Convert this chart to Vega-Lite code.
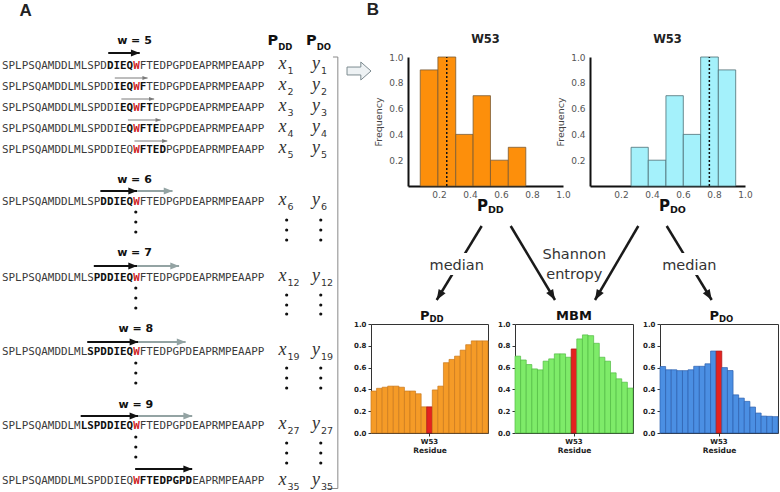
{
  "$schema": "https://vega.github.io/schema/vega-lite/v6.json",
  "padding": 0,
  "background": "white",
  "config": {"view": {"stroke": null}, "font": "DejaVu Sans", "axis": {"grid": false, "labelOverlap": false, "labelFlush": false}},
  "datasets": {
    "seqA": [
      {"y": 6.6, "x": 0, "text": "SPLPSQAMDDLMLSPD", "kind": "ctx"},
      {"y": 6.6, "x": 16, "text": "DIEQ", "kind": "win"},
      {"y": 6.6, "x": 20, "text": "W", "kind": "tgt"},
      {"y": 6.6, "x": 21, "text": "FTEDPGPDEAPRMPEAAPP", "kind": "ctx"},
      {"y": 8.7, "x": 0, "text": "SPLPSQAMDDLMLSPDD", "kind": "ctx"},
      {"y": 8.7, "x": 17, "text": "IEQ", "kind": "win"},
      {"y": 8.7, "x": 20, "text": "W", "kind": "tgt"},
      {"y": 8.7, "x": 21, "text": "F", "kind": "win"},
      {"y": 8.7, "x": 22, "text": "TEDPGPDEAPRMPEAAPP", "kind": "ctx"},
      {"y": 10.8, "x": 0, "text": "SPLPSQAMDDLMLSPDDI", "kind": "ctx"},
      {"y": 10.8, "x": 18, "text": "EQ", "kind": "win"},
      {"y": 10.8, "x": 20, "text": "W", "kind": "tgt"},
      {"y": 10.8, "x": 21, "text": "FT", "kind": "win"},
      {"y": 10.8, "x": 23, "text": "EDPGPDEAPRMPEAAPP", "kind": "ctx"},
      {"y": 12.9, "x": 0, "text": "SPLPSQAMDDLMLSPDDIE", "kind": "ctx"},
      {"y": 12.9, "x": 19, "text": "Q", "kind": "win"},
      {"y": 12.9, "x": 20, "text": "W", "kind": "tgt"},
      {"y": 12.9, "x": 21, "text": "FTE", "kind": "win"},
      {"y": 12.9, "x": 24, "text": "DPGPDEAPRMPEAAPP", "kind": "ctx"},
      {"y": 15.0, "x": 0, "text": "SPLPSQAMDDLMLSPDDIEQ", "kind": "ctx"},
      {"y": 15.0, "x": 20, "text": "W", "kind": "tgt"},
      {"y": 15.0, "x": 21, "text": "FTED", "kind": "win"},
      {"y": 15.0, "x": 25, "text": "PGPDEAPRMPEAAPP", "kind": "ctx"},
      {"y": 20.2, "x": 0, "text": "SPLPSQAMDDLMLSP", "kind": "ctx"},
      {"y": 20.2, "x": 15, "text": "DDIEQ", "kind": "win"},
      {"y": 20.2, "x": 20, "text": "W", "kind": "tgt"},
      {"y": 20.2, "x": 21, "text": "FTEDPGPDEAPRMPEAAPP", "kind": "ctx"},
      {"y": 27.8, "x": 0, "text": "SPLPSQAMDDLMLS", "kind": "ctx"},
      {"y": 27.8, "x": 14, "text": "PDDIEQ", "kind": "win"},
      {"y": 27.8, "x": 20, "text": "W", "kind": "tgt"},
      {"y": 27.8, "x": 21, "text": "FTEDPGPDEAPRMPEAAPP", "kind": "ctx"},
      {"y": 35.2, "x": 0, "text": "SPLPSQAMDDLML", "kind": "ctx"},
      {"y": 35.2, "x": 13, "text": "SPDDIEQ", "kind": "win"},
      {"y": 35.2, "x": 20, "text": "W", "kind": "tgt"},
      {"y": 35.2, "x": 21, "text": "FTEDPGPDEAPRMPEAAPP", "kind": "ctx"},
      {"y": 42.6, "x": 0, "text": "SPLPSQAMDDLM", "kind": "ctx"},
      {"y": 42.6, "x": 12, "text": "LSPDDIEQ", "kind": "win"},
      {"y": 42.6, "x": 20, "text": "W", "kind": "tgt"},
      {"y": 42.6, "x": 21, "text": "FTEDPGPDEAPRMPEAAPP", "kind": "ctx"},
      {"y": 48.1, "x": 0, "text": "SPLPSQAMDDLMLSPDDIEQ", "kind": "ctx"},
      {"y": 48.1, "x": 20, "text": "W", "kind": "tgt"},
      {"y": 48.1, "x": 21, "text": "FTEDPGPD", "kind": "win"},
      {"y": 48.1, "x": 29, "text": "EAPRMPEAAPP", "kind": "ctx"}
    ],
    "wlab": [
      {"x": 20.2, "y": 4.1, "label": "w = 5"},
      {"x": 20.2, "y": 18.0, "label": "w = 6"},
      {"x": 20.2, "y": 25.3, "label": "w = 7"},
      {"x": 20.4, "y": 32.9, "label": "w = 8"},
      {"x": 20.4, "y": 40.5, "label": "w = 9"}
    ],
    "arrowsA": [
      {"x": 16.2, "x2": 21, "y": 5.3, "kind": "win"},
      {"x": 15, "x2": 20.6, "y": 19.1, "kind": "win"},
      {"x": 14, "x2": 20.6, "y": 26.6, "kind": "win"},
      {"x": 13, "x2": 20.8, "y": 34.2, "kind": "win"},
      {"x": 12, "x2": 20.8, "y": 41.6, "kind": "win"},
      {"x": 20.3, "x2": 29, "y": 46.9, "kind": "win"},
      {"x": 20.6, "x2": 26, "y": 19.1, "kind": "slide"},
      {"x": 20.6, "x2": 27, "y": 26.6, "kind": "slide"},
      {"x": 20.8, "x2": 28, "y": 34.2, "kind": "slide"},
      {"x": 20.8, "x2": 29, "y": 41.6, "kind": "slide"},
      {"x": 17.2, "x2": 22.2, "y": 7.8, "kind": "step"},
      {"x": 18.2, "x2": 23.2, "y": 9.9, "kind": "step"},
      {"x": 19.2, "x2": 24.2, "y": 12.0, "kind": "step"},
      {"x": 20.2, "x2": 25.2, "y": 14.1, "kind": "step"}
    ],
    "dotsA": [
      {"x": 20.4, "y": 21.2}, {"x": 20.4, "y": 22.2}, {"x": 20.4, "y": 23.2},
      {"x": 20.4, "y": 28.8}, {"x": 20.4, "y": 29.8}, {"x": 20.4, "y": 30.8},
      {"x": 20.4, "y": 36.3}, {"x": 20.4, "y": 37.3}, {"x": 20.4, "y": 38.3},
      {"x": 20.4, "y": 43.7}, {"x": 20.4, "y": 44.7}, {"x": 20.4, "y": 45.7},
      {"x": 43.4, "y": 22.0}, {"x": 43.4, "y": 23.0}, {"x": 43.4, "y": 24.0},
      {"x": 43.4, "y": 29.5}, {"x": 43.4, "y": 30.5}, {"x": 43.4, "y": 31.4},
      {"x": 43.4, "y": 36.8}, {"x": 43.4, "y": 37.8}, {"x": 43.4, "y": 38.8},
      {"x": 43.4, "y": 44.3}, {"x": 43.4, "y": 45.3}, {"x": 43.4, "y": 46.3},
      {"x": 48.6, "y": 22.0}, {"x": 48.6, "y": 23.0}, {"x": 48.6, "y": 24.0},
      {"x": 48.6, "y": 29.5}, {"x": 48.6, "y": 30.5}, {"x": 48.6, "y": 31.4},
      {"x": 48.6, "y": 36.8}, {"x": 48.6, "y": 37.8}, {"x": 48.6, "y": 38.8},
      {"x": 48.6, "y": 44.3}, {"x": 48.6, "y": 45.3}, {"x": 48.6, "y": 46.3}
    ],
    "varsA": [
      {"x": 42.15, "y": 6.85, "v": "x", "sub": "1"}, {"x": 47.26, "y": 6.85, "v": "y", "sub": "1"},
      {"x": 42.15, "y": 8.95, "v": "x", "sub": "2"}, {"x": 47.26, "y": 8.95, "v": "y", "sub": "2"},
      {"x": 42.15, "y": 11.05, "v": "x", "sub": "3"}, {"x": 47.26, "y": 11.05, "v": "y", "sub": "3"},
      {"x": 42.15, "y": 13.15, "v": "x", "sub": "4"}, {"x": 47.26, "y": 13.15, "v": "y", "sub": "4"},
      {"x": 42.15, "y": 15.25, "v": "x", "sub": "5"}, {"x": 47.26, "y": 15.25, "v": "y", "sub": "5"},
      {"x": 42.15, "y": 20.45, "v": "x", "sub": "6"}, {"x": 47.26, "y": 20.45, "v": "y", "sub": "6"},
      {"x": 42.15, "y": 28.05, "v": "x", "sub": "12"}, {"x": 47.26, "y": 28.05, "v": "y", "sub": "12"},
      {"x": 42.15, "y": 35.45, "v": "x", "sub": "19"}, {"x": 47.26, "y": 35.45, "v": "y", "sub": "19"},
      {"x": 42.15, "y": 42.85, "v": "x", "sub": "27"}, {"x": 47.26, "y": 42.85, "v": "y", "sub": "27"},
      {"x": 42.15, "y": 48.45, "v": "x", "sub": "35"}, {"x": 47.26, "y": 48.45, "v": "y", "sub": "35"}
    ],
    "headA": [
      {"x": 42.1, "y": 4.5, "main": "P", "sub": "DD"},
      {"x": 47.98, "y": 4.5, "main": "P", "sub": "DO"}
    ],
    "bracketA": [
      {"x": 51.2, "y": 5.7, "x2": 51.2, "y2": 48.85},
      {"x": 50.46, "y": 5.7, "x2": 51.2, "y2": 5.7},
      {"x": 49.55, "y": 48.85, "x2": 51.2, "y2": 48.85}
    ],
    "hist1": [
      {"lo": 0.079, "hi": 0.193, "freq": 0.9},
      {"lo": 0.193, "hi": 0.308, "freq": 1.0},
      {"lo": 0.308, "hi": 0.42, "freq": 0.4},
      {"lo": 0.42, "hi": 0.532, "freq": 0.7},
      {"lo": 0.532, "hi": 0.647, "freq": 0.2},
      {"lo": 0.647, "hi": 0.76, "freq": 0.3}
    ],
    "hist2": [
      {"lo": 0.265, "hi": 0.376, "freq": 0.3},
      {"lo": 0.376, "hi": 0.49, "freq": 0.2},
      {"lo": 0.49, "hi": 0.602, "freq": 0.7},
      {"lo": 0.602, "hi": 0.714, "freq": 0.4},
      {"lo": 0.714, "hi": 0.828, "freq": 1.0},
      {"lo": 0.828, "hi": 0.94, "freq": 0.9}
    ],
    "flow": [
      {"x": 11.07, "y": 4.0, "x2": 6.57, "y2": 11.4, "ang": 121.3},
      {"x": 13.97, "y": 4.0, "x2": 18.4, "y2": 11.4, "ang": 59.1},
      {"x": 26.73, "y": 4.0, "x2": 22.4, "y2": 11.4, "ang": 120.3},
      {"x": 29.57, "y": 4.0, "x2": 34.07, "y2": 11.4, "ang": 58.7}
    ],
    "gaps": [
      {"x": 5.6, "y": 6.7, "x2": 11.6, "y2": 8.9},
      {"x": 28.9, "y": 6.7, "x2": 34.9, "y2": 8.9}
    ],
    "flowText": [
      {"x": 8.57, "y": 8.0, "t": "median"},
      {"x": 20.33, "y": 6.9, "t": "Shannon"},
      {"x": 20.33, "y": 8.85, "t": "entropy"},
      {"x": 31.83, "y": 8.0, "t": "median"}
    ],
    "pdd": [
      {"residue": "L43", "value": 0.385}, {"residue": "M44", "value": 0.41}, {"residue": "L45", "value": 0.42},
      {"residue": "S46", "value": 0.43}, {"residue": "P47", "value": 0.43}, {"residue": "D48", "value": 0.42},
      {"residue": "D49", "value": 0.385}, {"residue": "I50", "value": 0.385}, {"residue": "E51", "value": 0.36},
      {"residue": "Q52", "value": 0.24}, {"residue": "W53", "value": 0.24}, {"residue": "F54", "value": 0.395},
      {"residue": "T55", "value": 0.43}, {"residue": "E56", "value": 0.645}, {"residue": "D57", "value": 0.675},
      {"residue": "P58", "value": 0.705}, {"residue": "G59", "value": 0.76}, {"residue": "P60", "value": 0.81},
      {"residue": "D61", "value": 0.845}, {"residue": "E62", "value": 0.845}, {"residue": "A63", "value": 0.845}
    ],
    "mbm": [
      {"residue": "L43", "value": 0.705}, {"residue": "M44", "value": 0.67}, {"residue": "L45", "value": 0.628},
      {"residue": "S46", "value": 0.588}, {"residue": "P47", "value": 0.579}, {"residue": "D48", "value": 0.659},
      {"residue": "D49", "value": 0.68}, {"residue": "I50", "value": 0.726}, {"residue": "E51", "value": 0.726},
      {"residue": "Q52", "value": 0.695}, {"residue": "W53", "value": 0.771}, {"residue": "F54", "value": 0.863},
      {"residue": "T55", "value": 0.9}, {"residue": "E56", "value": 0.893}, {"residue": "D57", "value": 0.823},
      {"residue": "P58", "value": 0.695}, {"residue": "G59", "value": 0.659}, {"residue": "P60", "value": 0.552},
      {"residue": "D61", "value": 0.497}, {"residue": "E62", "value": 0.466}, {"residue": "A63", "value": 0.412}
    ],
    "pdo": [
      {"residue": "L43", "value": 0.61}, {"residue": "M44", "value": 0.58}, {"residue": "L45", "value": 0.58},
      {"residue": "S46", "value": 0.572}, {"residue": "P47", "value": 0.572}, {"residue": "D48", "value": 0.58},
      {"residue": "D49", "value": 0.612}, {"residue": "I50", "value": 0.612}, {"residue": "E51", "value": 0.635},
      {"residue": "Q52", "value": 0.752}, {"residue": "W53", "value": 0.752}, {"residue": "F54", "value": 0.6},
      {"residue": "T55", "value": 0.573}, {"residue": "E56", "value": 0.35}, {"residue": "D57", "value": 0.32},
      {"residue": "P58", "value": 0.29}, {"residue": "G59", "value": 0.238}, {"residue": "P60", "value": 0.183},
      {"residue": "D61", "value": 0.155}, {"residue": "E62", "value": 0.153}, {"residue": "A63", "value": 0.15}
    ]
  },
  "hconcat": [
    {
      "width": 348,
      "height": 492,
      "encoding": {
        "x": {"field": "x", "type": "quantitative", "scale": {"domain": [-0.3, 52.75], "nice": false, "zero": false}, "axis": null},
        "y": {"field": "y", "type": "quantitative", "scale": {"domain": [0, 49.2], "reverse": true, "nice": false, "zero": false}, "axis": null}
      },
      "layer": [
        {
          "data": {"name": "bracketA"},
          "mark": {"type": "rule", "color": "#8a8a8a", "strokeWidth": 1},
          "encoding": {"x2": {"field": "x2"}, "y2": {"field": "y2"}}
        },
        {
          "data": {"name": "arrowsA"},
          "transform": [{"filter": "datum.kind === 'win'"}],
          "mark": {"type": "rule", "color": "#111111", "strokeWidth": 2},
          "encoding": {"x2": {"field": "x2"}}
        },
        {
          "data": {"name": "arrowsA"},
          "transform": [{"filter": "datum.kind === 'slide'"}],
          "mark": {"type": "rule", "color": "#93a3a3", "strokeWidth": 2},
          "encoding": {"x2": {"field": "x2"}}
        },
        {
          "data": {"name": "arrowsA"},
          "transform": [{"filter": "datum.kind === 'step'"}],
          "mark": {"type": "rule", "color": "#7a7a7a", "strokeWidth": 1},
          "encoding": {"x2": {"field": "x2"}}
        },
        {
          "data": {"name": "arrowsA"},
          "transform": [{"filter": "datum.kind === 'win'"}],
          "mark": {"type": "point", "shape": "M0,0L-2.2,-0.85L-2.2,0.85Z", "filled": true, "color": "#111111", "size": 64, "opacity": 1, "strokeWidth": 0},
          "encoding": {"x": {"field": "x2", "type": "quantitative", "scale": {"domain": [-0.3, 52.75], "nice": false, "zero": false}, "axis": null}}
        },
        {
          "data": {"name": "arrowsA"},
          "transform": [{"filter": "datum.kind === 'slide'"}],
          "mark": {"type": "point", "shape": "M0,0L-2.2,-0.85L-2.2,0.85Z", "filled": true, "color": "#93a3a3", "size": 64, "opacity": 1, "strokeWidth": 0},
          "encoding": {"x": {"field": "x2", "type": "quantitative", "scale": {"domain": [-0.3, 52.75], "nice": false, "zero": false}, "axis": null}}
        },
        {
          "data": {"name": "arrowsA"},
          "transform": [{"filter": "datum.kind === 'step'"}],
          "mark": {"type": "point", "shape": "M0,0L-2.2,-0.85L-2.2,0.85Z", "filled": true, "color": "#7a7a7a", "size": 22, "opacity": 1, "strokeWidth": 0},
          "encoding": {"x": {"field": "x2", "type": "quantitative", "scale": {"domain": [-0.3, 52.75], "nice": false, "zero": false}, "axis": null}}
        },
        {
          "data": {"name": "dotsA"},
          "mark": {"type": "circle", "color": "#111111", "size": 10, "opacity": 1}
        },
        {
          "data": {"name": "seqA"},
          "transform": [{"filter": "datum.kind === 'ctx'"}],
          "mark": {"type": "text", "font": "DejaVu Sans Mono", "fontSize": 10.9, "align": "left", "baseline": "middle", "color": "#3a3a3a"},
          "encoding": {"text": {"field": "text"}}
        },
        {
          "data": {"name": "seqA"},
          "transform": [{"filter": "datum.kind === 'win'"}],
          "mark": {"type": "text", "font": "DejaVu Sans Mono", "fontSize": 10.9, "fontWeight": "bold", "align": "left", "baseline": "middle", "color": "#111111"},
          "encoding": {"text": {"field": "text"}}
        },
        {
          "data": {"name": "seqA"},
          "transform": [{"filter": "datum.kind === 'tgt'"}],
          "mark": {"type": "text", "font": "DejaVu Sans Mono", "fontSize": 10.9, "fontWeight": "bold", "align": "left", "baseline": "middle", "color": "#d02525"},
          "encoding": {"text": {"field": "text"}}
        },
        {
          "data": {"name": "wlab"},
          "mark": {"type": "text", "font": "DejaVu Sans", "fontSize": 11, "fontWeight": "bold", "align": "center", "baseline": "middle", "color": "#111111"},
          "encoding": {"text": {"field": "label"}}
        },
        {
          "data": {"name": "headA"},
          "mark": {"type": "text", "font": "DejaVu Sans", "fontSize": 14.5, "fontWeight": "bold", "align": "right", "baseline": "alphabetic", "color": "#111111"},
          "encoding": {"text": {"field": "main"}}
        },
        {
          "data": {"name": "headA"},
          "mark": {"type": "text", "font": "DejaVu Sans", "fontSize": 8.5, "fontWeight": "bold", "align": "left", "baseline": "alphabetic", "dy": 5, "color": "#111111"},
          "encoding": {"text": {"field": "sub"}}
        },
        {
          "data": {"name": "varsA"},
          "mark": {"type": "text", "font": "Liberation Serif", "fontSize": 18, "fontStyle": "italic", "align": "left", "baseline": "alphabetic", "color": "#333333"},
          "encoding": {"text": {"field": "v"}}
        },
        {
          "data": {"name": "varsA"},
          "mark": {"type": "text", "font": "DejaVu Sans", "fontSize": 9.5, "align": "left", "baseline": "alphabetic", "dx": 9, "dy": 5.5, "color": "#333333"},
          "encoding": {"text": {"field": "sub"}}
        },
        {
          "data": {"values": [{"x": 3.59, "y": 1.1, "t": "A"}]},
          "mark": {"type": "text", "font": "Liberation Sans", "fontSize": 17, "fontWeight": "bold", "align": "center", "baseline": "middle", "color": "#222222"},
          "encoding": {"text": {"field": "t"}}
        },
        {
          "data": {"values": [{"x": 54.43, "y": 7.1}]},
          "mark": {"type": "point", "shape": "M-1,-0.33L0.15,-0.33L0.15,-0.75L1,0L0.15,0.75L0.15,0.33L-1,0.33Z", "filled": false, "fill": "#eef2f4", "stroke": "#7d8b90", "strokeWidth": 1, "size": 576, "opacity": 1, "fillOpacity": 1}
        }
      ]
    },
    {
      "vconcat": [
        {
          "width": 407,
          "height": 33,
          "data": {"values": [{"x": 0.2, "y": 0.95, "t": "B"}]},
          "mark": {"type": "text", "font": "Liberation Sans", "fontSize": 17, "fontWeight": "bold", "align": "center", "baseline": "middle", "color": "#222222"},
          "encoding": {
            "x": {"field": "x", "type": "quantitative", "scale": {"domain": [0, 40.7], "nice": false, "zero": false}, "axis": null},
            "y": {"field": "y", "type": "quantitative", "scale": {"domain": [0, 3.3], "reverse": true, "nice": false, "zero": false}, "axis": null},
            "text": {"field": "t"}
          }
        },
        {
          "hconcat": [
            {
              "width": 10,
              "height": 129,
              "data": {"values": [{"t": ""}]},
              "mark": {"type": "text"},
              "encoding": {"text": {"field": "t"}}
            },
            {
              "width": 155,
              "height": 129,
              "title": {"text": "W53", "font": "DejaVu Sans", "fontSize": 11.5, "fontWeight": "bold", "color": "#222222", "offset": 8, "anchor": "middle"},
              "layer": [
                {
                  "data": {"name": "hist1"},
                  "mark": {"type": "rect", "fill": "#fd8f0b", "stroke": "#7a5a33", "strokeWidth": 0.8},
                  "encoding": {
                    "x": {"field": "lo", "type": "quantitative", "scale": {"domain": [0, 1], "nice": false, "zero": false},
                      "axis": {"values": [0.2, 0.4, 0.6, 0.8, 1.0], "tickCount": 20, "format": ".1f", "ticks": false, "labelOverlap": false, "labelFlush": false, "labelPadding": 4, "labelFont": "DejaVu Sans", "labelFontSize": 9, "labelColor": "#555555", "domainColor": "#111111", "domainWidth": 2, "title": null}},
                    "x2": {"field": "hi"},
                    "y": {"field": "freq", "type": "quantitative", "scale": {"domain": [0, 1], "nice": false},
                      "axis": {"values": [0.2, 0.4, 0.6, 0.8, 1.0], "tickCount": 20, "format": ".1f", "ticks": false, "labelOverlap": false, "labelFlush": false, "labelPadding": 5, "labelFont": "DejaVu Sans", "labelFontSize": 9, "labelColor": "#555555", "domainColor": "#111111", "domainWidth": 2, "title": "Frequency", "titleFont": "DejaVu Sans", "titleFontSize": 9.5, "titleFontWeight": "normal", "titleColor": "#444444", "titlePadding": 5}},
                    "y2": {"datum": 0}
                  }
                },
                {
                  "data": {"values": [{"median": 0.25}]},
                  "mark": {"type": "rule", "color": "#111111", "strokeWidth": 1.5, "strokeDash": [2, 2]},
                  "encoding": {
                    "x": {"field": "median", "type": "quantitative", "scale": {"domain": [0, 1], "nice": false, "zero": false}},
                    "y": {"datum": 0, "type": "quantitative", "scale": {"domain": [0, 1], "nice": false}},
                    "y2": {"datum": 1}
                  }
                },
                {
                  "data": {"values": [{"main": "P", "sub": "DD"}]},
                  "mark": {"type": "text", "font": "DejaVu Sans", "fontSize": 15, "fontWeight": "bold", "align": "right", "baseline": "alphabetic", "color": "#111111"},
                  "encoding": {
                    "x": {"datum": 0.516, "type": "quantitative", "scale": {"domain": [0, 1], "nice": false, "zero": false}},
                    "y": {"datum": -0.19, "type": "quantitative", "scale": {"domain": [0, 1], "nice": false}},
                    "text": {"field": "main"}
                  }
                },
                {
                  "data": {"values": [{"main": "P", "sub": "DD"}]},
                  "mark": {"type": "text", "font": "DejaVu Sans", "fontSize": 9.5, "fontWeight": "bold", "align": "left", "baseline": "alphabetic", "dy": 2, "color": "#111111"},
                  "encoding": {
                    "x": {"datum": 0.516, "type": "quantitative", "scale": {"domain": [0, 1], "nice": false, "zero": false}},
                    "y": {"datum": -0.19, "type": "quantitative", "scale": {"domain": [0, 1], "nice": false}},
                    "text": {"field": "sub"}
                  }
                }
              ]
            },
            {
              "width": 155,
              "height": 129,
              "title": {"text": "W53", "font": "DejaVu Sans", "fontSize": 11.5, "fontWeight": "bold", "color": "#222222", "offset": 8, "anchor": "middle"},
              "layer": [
                {
                  "data": {"name": "hist2"},
                  "mark": {"type": "rect", "fill": "#a4f1fb", "stroke": "#4d6f75", "strokeWidth": 0.8},
                  "encoding": {
                    "x": {"field": "lo", "type": "quantitative", "scale": {"domain": [0, 1], "nice": false, "zero": false},
                      "axis": {"values": [0.2, 0.4, 0.6, 0.8, 1.0], "tickCount": 20, "format": ".1f", "ticks": false, "labelOverlap": false, "labelFlush": false, "labelPadding": 4, "labelFont": "DejaVu Sans", "labelFontSize": 9, "labelColor": "#555555", "domainColor": "#111111", "domainWidth": 2, "title": null}},
                    "x2": {"field": "hi"},
                    "y": {"field": "freq", "type": "quantitative", "scale": {"domain": [0, 1], "nice": false},
                      "axis": {"values": [0.2, 0.4, 0.6, 0.8, 1.0], "tickCount": 20, "format": ".1f", "ticks": false, "labelOverlap": false, "labelFlush": false, "labelPadding": 5, "labelFont": "DejaVu Sans", "labelFontSize": 9, "labelColor": "#555555", "domainColor": "#111111", "domainWidth": 2, "title": "Frequency", "titleFont": "DejaVu Sans", "titleFontSize": 9.5, "titleFontWeight": "normal", "titleColor": "#444444", "titlePadding": 5}},
                    "y2": {"datum": 0}
                  }
                },
                {
                  "data": {"values": [{"median": 0.77}]},
                  "mark": {"type": "rule", "color": "#111111", "strokeWidth": 1.5, "strokeDash": [2, 2]},
                  "encoding": {
                    "x": {"field": "median", "type": "quantitative", "scale": {"domain": [0, 1], "nice": false, "zero": false}},
                    "y": {"datum": 0, "type": "quantitative", "scale": {"domain": [0, 1], "nice": false}},
                    "y2": {"datum": 1}
                  }
                },
                {
                  "data": {"values": [{"main": "P", "sub": "DO"}]},
                  "mark": {"type": "text", "font": "DejaVu Sans", "fontSize": 15, "fontWeight": "bold", "align": "right", "baseline": "alphabetic", "color": "#111111"},
                  "encoding": {
                    "x": {"datum": 0.516, "type": "quantitative", "scale": {"domain": [0, 1], "nice": false, "zero": false}},
                    "y": {"datum": -0.19, "type": "quantitative", "scale": {"domain": [0, 1], "nice": false}},
                    "text": {"field": "main"}
                  }
                },
                {
                  "data": {"values": [{"main": "P", "sub": "DO"}]},
                  "mark": {"type": "text", "font": "DejaVu Sans", "fontSize": 9.5, "fontWeight": "bold", "align": "left", "baseline": "alphabetic", "dy": 2, "color": "#111111"},
                  "encoding": {
                    "x": {"datum": 0.516, "type": "quantitative", "scale": {"domain": [0, 1], "nice": false, "zero": false}},
                    "y": {"datum": -0.19, "type": "quantitative", "scale": {"domain": [0, 1], "nice": false}},
                    "text": {"field": "sub"}
                  }
                }
              ]
            }
          ],
          "spacing": 27,
          "bounds": "flush"
        },
        {
          "width": 407,
          "height": 94,
          "encoding": {
            "x": {"field": "x", "type": "quantitative", "scale": {"domain": [0, 40.7], "nice": false, "zero": false}, "axis": null},
            "y": {"field": "y", "type": "quantitative", "scale": {"domain": [2.9, 12.3], "reverse": true, "nice": false, "zero": false}, "axis": null}
          },
          "layer": [
            {
              "data": {"name": "flow"},
              "mark": {"type": "rule", "color": "#1a1a1a", "strokeWidth": 2.5},
              "encoding": {"x2": {"field": "x2"}, "y2": {"field": "y2"}}
            },
            {
              "data": {"name": "gaps"},
              "mark": {"type": "rect", "fill": "white", "stroke": null},
              "encoding": {"x2": {"field": "x2"}, "y2": {"field": "y2"}}
            },
            {
              "data": {"name": "flowText"},
              "mark": {"type": "text", "font": "DejaVu Sans", "fontSize": 14.5, "align": "center", "baseline": "middle", "color": "#333333"},
              "encoding": {"text": {"field": "t"}}
            },
            {
              "data": {"name": "flow"},
              "mark": {"type": "point", "shape": "M0,0L-2.2,-0.85L-2.2,0.85Z", "filled": true, "color": "#1a1a1a", "size": 90, "opacity": 1, "strokeWidth": 0},
              "encoding": {
                "x": {"field": "x2", "type": "quantitative", "scale": {"domain": [0, 40.7], "nice": false, "zero": false}, "axis": null},
                "y": {"field": "y2", "type": "quantitative", "scale": {"domain": [2.9, 12.3], "reverse": true, "nice": false, "zero": false}, "axis": null},
                "angle": {"field": "ang", "type": "quantitative", "scale": null}
              }
            }
          ]
        },
        {
          "hconcat": [
            {
              "width": 117,
              "height": 109,
              "view": {"stroke": "#333333", "strokeWidth": 1},
              "layer": [
                {
                  "data": {"name": "pdd"},
                  "mark": {"type": "bar", "strokeWidth": 0.7},
                  "encoding": {
                    "x": {"field": "residue", "type": "nominal", "sort": null, "scale": {"paddingInner": 0, "paddingOuter": 0},
                      "axis": {"values": ["W53"], "title": "Residue", "labelAngle": 0, "labelFont": "DejaVu Sans", "labelFontWeight": "bold", "labelFontSize": 7, "labelColor": "#222222", "tickSize": 3, "tickColor": "#333333", "labelPadding": 1, "domain": false, "titleFont": "DejaVu Sans", "titleFontWeight": "bold", "titleFontSize": 7.5, "titleColor": "#222222", "titlePadding": 2}},
                    "y": {"field": "value", "type": "quantitative", "scale": {"domain": [0, 1], "nice": false},
                      "axis": {"values": [0, 0.2, 0.4, 0.6, 0.8, 1.0], "tickCount": 20, "format": ".1f", "title": null, "labelOverlap": false, "labelFlush": false, "labelFont": "DejaVu Sans", "labelFontWeight": "bold", "labelFontSize": 7, "labelColor": "#222222", "tickSize": 3, "tickColor": "#333333", "labelPadding": 2, "domain": false}},
                    "fill": {"condition": {"test": "datum.residue === 'W53'", "value": "#e4221f"}, "value": "#f59b27"},
                    "stroke": {"condition": {"test": "datum.residue === 'W53'", "value": "#a81616"}, "value": "#c9791c"}
                  }
                },
                {
                  "data": {"values": [{"main": "P", "sub": "DD"}]},
                  "mark": {"type": "text", "font": "DejaVu Sans", "fontSize": 13, "fontWeight": "bold", "align": "right", "baseline": "alphabetic", "color": "#111111"},
                  "encoding": {
                    "x": {"datum": "W53", "type": "nominal", "scale": {"paddingInner": 0, "paddingOuter": 0}},
                    "y": {"datum": 1.035, "type": "quantitative", "scale": {"domain": [0, 1], "nice": false}},
                    "text": {"field": "main"}
                  }
                },
                {
                  "data": {"values": [{"main": "P", "sub": "DD"}]},
                  "mark": {"type": "text", "font": "DejaVu Sans", "fontSize": 8.5, "fontWeight": "bold", "align": "left", "baseline": "alphabetic", "dy": 2, "color": "#111111"},
                  "encoding": {
                    "x": {"datum": "W53", "type": "nominal", "scale": {"paddingInner": 0, "paddingOuter": 0}},
                    "y": {"datum": 1.035, "type": "quantitative", "scale": {"domain": [0, 1], "nice": false}},
                    "text": {"field": "sub"}
                  }
                }
              ]
            },
            {
              "width": 118,
              "height": 109,
              "view": {"stroke": "#333333", "strokeWidth": 1},
              "layer": [
                {
                  "data": {"name": "mbm"},
                  "mark": {"type": "bar", "strokeWidth": 0.7},
                  "encoding": {
                    "x": {"field": "residue", "type": "nominal", "sort": null, "scale": {"paddingInner": 0, "paddingOuter": 0},
                      "axis": {"values": ["W53"], "title": "Residue", "labelAngle": 0, "labelFont": "DejaVu Sans", "labelFontWeight": "bold", "labelFontSize": 7, "labelColor": "#222222", "tickSize": 3, "tickColor": "#333333", "labelPadding": 1, "domain": false, "titleFont": "DejaVu Sans", "titleFontWeight": "bold", "titleFontSize": 7.5, "titleColor": "#222222", "titlePadding": 2}},
                    "y": {"field": "value", "type": "quantitative", "scale": {"domain": [0, 1], "nice": false},
                      "axis": {"values": [0, 0.2, 0.4, 0.6, 0.8, 1.0], "tickCount": 20, "format": ".1f", "title": null, "labelOverlap": false, "labelFlush": false, "labelFont": "DejaVu Sans", "labelFontWeight": "bold", "labelFontSize": 7, "labelColor": "#222222", "tickSize": 3, "tickColor": "#333333", "labelPadding": 2, "domain": false}},
                    "fill": {"condition": {"test": "datum.residue === 'W53'", "value": "#e4221f"}, "value": "#7eeb69"},
                    "stroke": {"condition": {"test": "datum.residue === 'W53'", "value": "#a81616"}, "value": "#52bb44"}
                  }
                },
                {
                  "data": {"values": [{"main": "MBM"}]},
                  "mark": {"type": "text", "font": "DejaVu Sans", "fontSize": 13, "fontWeight": "bold", "align": "center", "baseline": "alphabetic", "color": "#111111"},
                  "encoding": {
                    "x": {"datum": "W53", "type": "nominal", "scale": {"paddingInner": 0, "paddingOuter": 0}},
                    "y": {"datum": 1.035, "type": "quantitative", "scale": {"domain": [0, 1], "nice": false}},
                    "text": {"field": "main"}
                  }
                }
              ]
            },
            {
              "width": 118,
              "height": 109,
              "view": {"stroke": "#333333", "strokeWidth": 1},
              "layer": [
                {
                  "data": {"name": "pdo"},
                  "mark": {"type": "bar", "strokeWidth": 0.7},
                  "encoding": {
                    "x": {"field": "residue", "type": "nominal", "sort": null, "scale": {"paddingInner": 0, "paddingOuter": 0},
                      "axis": {"values": ["W53"], "title": "Residue", "labelAngle": 0, "labelFont": "DejaVu Sans", "labelFontWeight": "bold", "labelFontSize": 7, "labelColor": "#222222", "tickSize": 3, "tickColor": "#333333", "labelPadding": 1, "domain": false, "titleFont": "DejaVu Sans", "titleFontWeight": "bold", "titleFontSize": 7.5, "titleColor": "#222222", "titlePadding": 2}},
                    "y": {"field": "value", "type": "quantitative", "scale": {"domain": [0, 1], "nice": false},
                      "axis": {"values": [0, 0.2, 0.4, 0.6, 0.8, 1.0], "tickCount": 20, "format": ".1f", "title": null, "labelOverlap": false, "labelFlush": false, "labelFont": "DejaVu Sans", "labelFontWeight": "bold", "labelFontSize": 7, "labelColor": "#222222", "tickSize": 3, "tickColor": "#333333", "labelPadding": 2, "domain": false}},
                    "fill": {"condition": {"test": "datum.residue === 'W53'", "value": "#e4221f"}, "value": "#4b8fe3"},
                    "stroke": {"condition": {"test": "datum.residue === 'W53'", "value": "#a81616"}, "value": "#2b5fae"}
                  }
                },
                {
                  "data": {"values": [{"main": "P", "sub": "DO"}]},
                  "mark": {"type": "text", "font": "DejaVu Sans", "fontSize": 13, "fontWeight": "bold", "align": "right", "baseline": "alphabetic", "color": "#111111"},
                  "encoding": {
                    "x": {"datum": "W53", "type": "nominal", "scale": {"paddingInner": 0, "paddingOuter": 0}},
                    "y": {"datum": 1.035, "type": "quantitative", "scale": {"domain": [0, 1], "nice": false}},
                    "text": {"field": "main"}
                  }
                },
                {
                  "data": {"values": [{"main": "P", "sub": "DO"}]},
                  "mark": {"type": "text", "font": "DejaVu Sans", "fontSize": 8.5, "fontWeight": "bold", "align": "left", "baseline": "alphabetic", "dy": 2, "color": "#111111"},
                  "encoding": {
                    "x": {"datum": "W53", "type": "nominal", "scale": {"paddingInner": 0, "paddingOuter": 0}},
                    "y": {"datum": 1.035, "type": "quantitative", "scale": {"domain": [0, 1], "nice": false}},
                    "text": {"field": "sub"}
                  }
                }
              ]
            }
          ],
          "spacing": 27,
          "bounds": "flush"
        }
      ],
      "spacing": 0
    }
  ],
  "spacing": 23,
  "bounds": "flush"
}
